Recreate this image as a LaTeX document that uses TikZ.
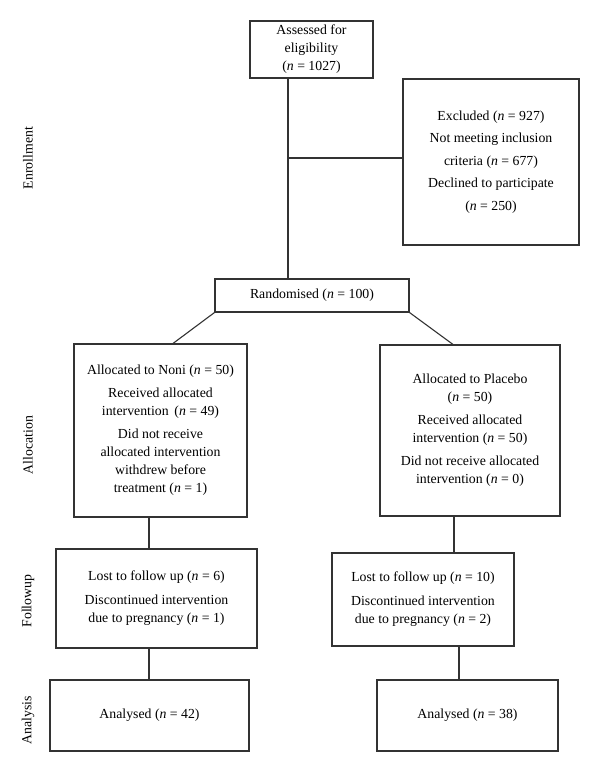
\documentclass[tikz,border=0pt]{standalone}
\usepackage{fontspec}
\setmainfont{Liberation Serif}
\newcommand\nn[1]{(\textit{n}~=~#1)}
\begin{document}
\begin{tikzpicture}[x=1pt,y=1pt,
  box/.style={draw=black!80, line width=1.1pt, inner sep=0pt, align=center,
    font=\fontsize{13.8}{18}\selectfont},
  link/.style={draw=black!80, line width=1.1pt},
  stage/.style={rotate=90, inner sep=0pt, font=\fontsize{13.8}{15}\selectfont}]
\useasboundingbox (0,0) rectangle (600,-779);
\fill[white] (0,0) rectangle (600,-779);

\node[box, minimum width=123, minimum height=57] (assess) at (311.5,-49.5)
  {Assessed for\\ eligibility\\ \nn{1027}};
\node[box, minimum width=176, minimum height=166, font=\fontsize{13.8}{22.4}\selectfont] (excl) at (491,-162)
  {Excluded \nn{927}\\ Not meeting inclusion\\ criteria \nn{677}\\ Declined to participate\\ \nn{250}};
\node[box, minimum width=194, minimum height=33] (rand) at (312,-295.5)
  {Randomised \nn{100}};
\node[box, minimum width=173, minimum height=173] (noni) at (160.5,-430.5)
  {Allocated to Noni \nn{50}\\[5pt] Received allocated\\ intervention\, \nn{49}\\[5pt]
   Did not receive\\ allocated intervention\\ withdrew before\\ treatment \nn{1}};
\node[box, minimum width=180, minimum height=171] (plac) at (470,-430.5)
  {Allocated to Placebo\\ \nn{50}\\[5pt] Received allocated\\ intervention \nn{50}\\[5pt]
   Did not receive allocated\\ intervention \nn{0}};
\node[box, minimum width=201, minimum height=99] (fl) at (156.5,-598.5)
  {Lost to follow up \nn{6}\\[6pt] Discontinued intervention\\ due to pregnancy \nn{1}};
\node[box, minimum width=182, minimum height=93] (fr) at (423,-599.5)
  {Lost to follow up \nn{10}\\[6pt] Discontinued intervention\\ due to pregnancy \nn{2}};
\node[box, minimum width=199, minimum height=71] (al) at (149.5,-715.5)
  {Analysed \nn{42}};
\node[box, minimum width=181, minimum height=71] (ar) at (467.5,-715.5)
  {Analysed \nn{38}};

\node[stage] (s1) at (28,-158) {Enrollment};
\node[stage] (s2) at (28,-445) {Allocation};
\node[stage] (s3) at (28,-601) {Followup};
\node[stage] (s4) at (28,-720) {Analysis};

\coordinate (v1) at (288,0);
\coordinate (jn) at (288,-158);
\coordinate (dl) at (173,0);
\coordinate (dr) at (453,0);
\coordinate (v2) at (149,0);
\coordinate (v3) at (454,0);
\coordinate (v4) at (459,0);

\draw[link] (assess.south -| v1) -- (rand.north -| v1);
\draw[link] (jn) -- (jn -| excl.west);
\draw[link] (rand.south west) -- (noni.north -| dl);
\draw[link] (rand.south east) -- (plac.north -| dr);
\draw[link] (noni.south -| v2) -- (fl.north -| v2);
\draw[link] (plac.south -| v3) -- (fr.north -| v3);
\draw[link] (fl.south -| v2) -- (al.north -| v2);
\draw[link] (fr.south -| v4) -- (ar.north -| v4);
\end{tikzpicture}
\end{document}
